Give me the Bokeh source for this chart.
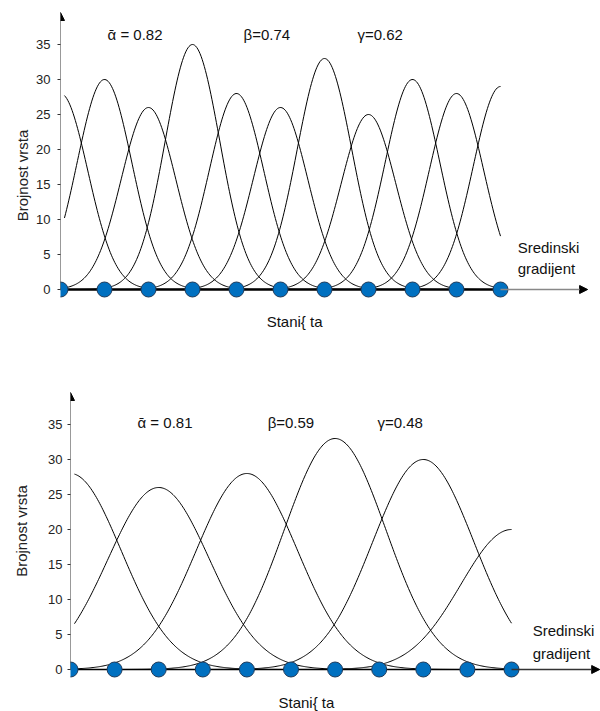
import numpy as np
from bokeh.plotting import figure
from bokeh.models import Arrow, NormalHead, FixedTicker
from bokeh.core.properties import value
from bokeh.embed import file_html
from bokeh.resources import INLINE

# ---- data ----
stations = [0, 1, 2, 3, 4, 5, 6, 7, 8, 9, 10]
y_ticks = [0, 5, 10, 15, 20, 25, 30, 35]

top_peak_pos = [0, 1, 2, 3, 4, 5, 6, 7, 8, 9, 10]
top_peak_height = [28, 30, 26, 35, 28, 26, 33, 25, 30, 28, 29]
top_width = 0.62
top_labels = ["\u1fb1 = 0.82", "\u03b2=0.74", "\u03b3=0.62"]

bottom_peak_pos = [0, 2, 4, 6, 8, 10]
bottom_peak_height = [28, 26, 28, 33, 30, 20]
bottom_width = 1.15
bottom_labels = ["\u1fb1 = 0.81", "\u03b2=0.59", "\u03b3=0.48"]

y_label = "Brojnost vrsta"
x_label = "Stani{ ta"
grad_label = ["Sredinski", "gradijent"]

FONT = "Liberation Sans"
W = 600


def make_panel(height, border_left, x_end, y_start, y_end, peak_pos, peak_h, sigma,
               labels, label_x, label_y, grad_x, grad_y, xlab_x, xlab_y,
               axis_width, ext_color, arrow_x, tick_standoff, label_standoff):
    p = figure(width=W, height=height, output_backend="svg", toolbar_location=None,
               x_range=(0, x_end), y_range=(y_start, y_end), x_axis_location=None,
               min_border_left=border_left, min_border_right=0, min_border_top=0,
               min_border_bottom=0)
    p.outline_line_color = None
    p.grid.visible = False
    ax = p.yaxis[0]
    ax.ticker = FixedTicker(ticks=y_ticks)
    ax.axis_line_color = None
    ax.major_tick_out = 3
    ax.major_tick_in = 0
    ax.minor_tick_line_color = None
    ax.major_tick_line_color = "#333333"
    ax.major_label_standoff = tick_standoff
    ax.major_label_text_font = FONT
    ax.major_label_text_font_size = "13px"
    ax.major_label_text_color = "#222222"
    ax.axis_label = y_label
    ax.axis_label_text_font = FONT
    ax.axis_label_text_font_size = "15px"
    ax.axis_label_text_font_style = "normal"
    ax.axis_label_text_color = "#222222"
    ax.axis_label_standoff = label_standoff

    # y axis with arrow
    p.add_layout(Arrow(end=NormalHead(size=8, fill_color="black", line_color="black"),
                       x_start=0, y_start=0, x_end=0, y_end=39.57,
                       line_color="#333333", line_width=1))

    # curves
    xs = np.linspace(0.09, 10, 400)
    for pos, h in zip(peak_pos, peak_h):
        ys = h * np.exp(-((xs - pos) ** 2) / (2 * sigma ** 2))
        p.line(xs, ys, line_color="black", line_width=1)

    # x axis (gradient)
    p.line([stations[0], stations[-1]], [0, 0], line_color="black", line_width=axis_width)
    p.add_layout(Arrow(end=NormalHead(size=8, fill_color="black", line_color="black"),
                       x_start=stations[-1], y_start=0, x_end=arrow_x, y_end=0,
                       line_color=ext_color, line_width=1.3))

    # sampling sites
    p.scatter(stations, [0] * len(stations), size=15, fill_color="#0070C0",
              line_color="#1F3A5A", line_width=1)

    # annotations
    for t, lx in zip(labels, label_x):
        p.text([lx], [label_y], text=[t], text_font=value(FONT), text_font_size="15px",
               text_baseline="middle", text_align="left", text_color="#111111")
    for t, gy in zip(grad_label, grad_y):
        p.text([grad_x], [gy], text=[t], text_font=value(FONT), text_font_size="15px",
               text_baseline="middle", text_align="left", text_color="#111111")
    p.text([xlab_x], [xlab_y], text=[x_label], text_font=value(FONT), text_font_size="15px",
           text_baseline="middle", text_align="center", text_color="#111111")
    return p


top = make_panel(height=350, border_left=60, x_end=540 / 44.0, y_start=-61 / 7.0,
                 y_end=289 / 7.0, peak_pos=top_peak_pos, peak_h=top_peak_height,
                 sigma=top_width, labels=top_labels, label_x=[1.07, 4.16, 6.75],
                 label_y=36.5, grad_x=10.39, grad_y=[6.0, 3.0],
                 xlab_x=5.32, xlab_y=-4.57, axis_width=2.5,
                 ext_color="#888888", arrow_x=11.98, tick_standoff=7, label_standoff=2)

bottom = make_panel(height=361, border_left=70, x_end=530 / 44.1, y_start=-42 / 7.0,
                    y_end=319 / 7.0, peak_pos=bottom_peak_pos, peak_h=bottom_peak_height,
                    sigma=bottom_width, labels=bottom_labels, label_x=[1.52, 4.47, 6.96],
                    label_y=35.3, grad_x=10.48, grad_y=[5.6, 2.3],
                    xlab_x=5.35, xlab_y=-4.7, axis_width=1.6,
                    ext_color="#333333", arrow_x=12.0, tick_standoff=5, label_standoff=15)

open("out.html", "w").write(file_html([top, bottom], INLINE))
